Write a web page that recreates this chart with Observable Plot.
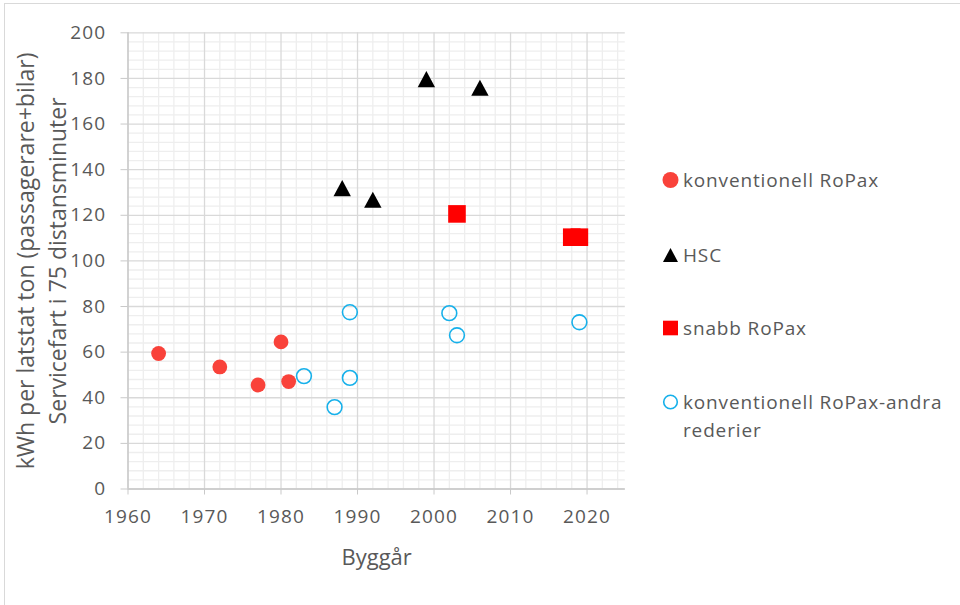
<!DOCTYPE html>
<html>
<head>
<meta charset="utf-8">
<script src="https://cdn.jsdelivr.net/npm/d3@7"></script>
<script src="https://cdn.jsdelivr.net/npm/@observablehq/plot@0.6"></script>
<style>
  body { margin: 0; background: #fff; }
  #chart { position: relative; width: 960px; height: 605px; overflow: hidden; font-family: "Open Sans", Lato, sans-serif; color: #595959; }
  #chart > svg { position: absolute; left: 0; top: 0; }
  #chart g[aria-label="x-axis tick label"] text,
  #chart g[aria-label="y-axis tick label"] text { letter-spacing: 1.1px; }
  .border-left { position: absolute; left: 4px; top: 3px; width: 1px; height: 602px; background: #d9d9d9; }
  .border-top { position: absolute; left: 4px; top: 3px; width: 956px; height: 1px; background: #d9d9d9; }
  .legend-item { position: absolute; left: 662px; font-size: 19px; line-height: 28px; letter-spacing: 0.85px; }
  .legend-item svg { position: absolute; left: 0; top: 0; overflow: visible; }
  .legend-item span { position: absolute; left: 21px; top: -14px; white-space: nowrap; }
</style>
</head>
<body>
<div id="chart">
  <div class="border-left"></div>
  <div class="border-top"></div>
</div>
<script>
// Byggår (x) and kWh per latstat ton (y), one pair of arrays per fartygstyp
const konvYear = [1964, 1972, 1977, 1980, 1981];
const konvValue = [59.4, 53.5, 45.6, 64.5, 47.1];

const hscYear = [1988, 1992, 1999, 2006];
const hscValue = [131.9, 126.8, 179.7, 175.9];

const snabbYear = [2003, 2018, 2019];
const snabbValue = [120.6, 110.4, 110.4];

const andraYear = [1983, 1987, 1989, 1989, 2002, 2003, 2019];
const andraValue = [49.5, 35.9, 77.5, 48.7, 77.1, 67.4, 73.1];

const seriesNames = ["konventionell RoPax", "HSC", "snabb RoPax", "konventionell RoPax-andra rederier"];

const xTicks = [1960, 1970, 1980, 1990, 2000, 2010, 2020];
const yTicks = [0, 20, 40, 60, 80, 100, 120, 140, 160, 180, 200];
const xMinor = d3.range(1962, 2025, 2).filter(v => v % 10 !== 0);
const yMinor = d3.range(4, 200, 4).filter(v => v % 20 !== 0);

const xTitle = "Byggår";
const yTitle1 = "kWh per latstat ton (passagerare+bilar)";
const yTitle2 = "Servicefart i 75 distansminuter";

// Office-style markers: triangle and square centered on their bounding box
const triangleSym = {
  draw(ctx, size) {
    const r = Math.sqrt(size / Math.PI);
    const h = r * 0.93;
    ctx.moveTo(0, -h);
    ctx.lineTo(r, h);
    ctx.lineTo(-r, h);
    ctx.closePath();
  }
};
const squareSym = {
  draw(ctx, size) {
    const r = Math.sqrt(size / Math.PI);
    ctx.rect(-r, -r, 2 * r, 2 * r);
  }
};

const toRows = (xs, ys) => xs.map((x, i) => ({x, y: ys[i]}));
const konv = toRows(konvYear, konvValue);
const hsc = toRows(hscYear, hscValue);
const snabb = toRows(snabbYear, snabbValue);
const andra = toRows(andraYear, andraValue);

const textColor = "#595959";
const font = "'Open Sans', Lato, sans-serif";

const plot = Plot.plot({
  width: 960,
  height: 605,
  marginLeft: 127.5,
  marginRight: 335.2,
  marginTop: 32.3,
  marginBottom: 116.5,
  style: {fontFamily: font, color: textColor, background: "transparent", overflow: "visible"},
  x: {domain: [1960, 2025]},
  y: {domain: [0, 200]},
  marks: [
    Plot.ruleX(xMinor, {stroke: "#eeeeee", strokeWidth: 1.3}),
    Plot.ruleY(yMinor, {stroke: "#eeeeee", strokeWidth: 1.3}),
    Plot.ruleX(xTicks, {stroke: "#d9d9d9", strokeWidth: 1.3}),
    Plot.ruleY(yTicks, {stroke: "#d9d9d9", strokeWidth: 1.3}),
    Plot.ruleY([0], {stroke: "#c9c9c9", strokeWidth: 1.4}),
    Plot.ruleX([1960], {stroke: "#c9c9c9", strokeWidth: 1.4}),
    Plot.axisX(xTicks, {tickSize: 6, tickPadding: 14.5, tickFormat: d => String(d), fontSize: 19, stroke: "#c9c9c9", fill: textColor, label: null}),
    Plot.axisY(yTicks, {tickSize: 7, tickPadding: 14.8, fontSize: 19, stroke: "#c9c9c9", fill: textColor, label: null}),
    Plot.text([xTitle], {frameAnchor: "bottom", dy: 69, lineAnchor: "middle", textAnchor: "middle", fontSize: 22, fill: textColor}),
    Plot.text([yTitle1], {frameAnchor: "left", rotate: -90, dx: -101, lineAnchor: "middle", textAnchor: "middle", fontSize: 23, fill: textColor}),
    Plot.text([yTitle2], {frameAnchor: "left", rotate: -90, dx: -69, lineAnchor: "middle", textAnchor: "middle", fontSize: 23, fill: textColor}),
    Plot.dot(konv, {x: "x", y: "y", r: 7.4, fill: "#f9423a", stroke: null}),
    Plot.dot(hsc, {x: "x", y: "y", r: 8.7, symbol: triangleSym, fill: "#000000", stroke: null}),
    Plot.dot(snabb, {x: "x", y: "y", r: 8.8, symbol: squareSym, fill: "#ff0000", stroke: null}),
    Plot.dot(andra, {x: "x", y: "y", r: 7.4, fill: "none", stroke: "#16b0ea", strokeWidth: 1.6})
  ]
});
document.getElementById("chart").appendChild(plot);

// Legend to the right of the plot area
const legendY = [180, 255, 328, 402];
const legendSwatches = [
  '<circle cx="8.5" cy="0" r="8" fill="#f9423a"/>',
  '<path d="M1,7 L8.5,-7 L16,7 Z" fill="#000"/>',
  '<rect x="1" y="-7.3" width="15" height="14.6" fill="#ff0000"/>',
  '<circle cx="8.5" cy="0" r="6.8" fill="none" stroke="#16b0ea" stroke-width="1.6"/>'
];
const legendLabels = ["konventionell RoPax", "HSC", "snabb RoPax", "konventionell RoPax-andra<br>rederier"];
const chart = document.getElementById("chart");
legendY.forEach((y, i) => {
  const item = document.createElement("div");
  item.className = "legend-item";
  item.style.top = y + "px";
  item.innerHTML = `<svg width="18" height="1">${legendSwatches[i]}</svg><span>${legendLabels[i]}</span>`;
  chart.appendChild(item);
});
</script>
</body>
</html>
